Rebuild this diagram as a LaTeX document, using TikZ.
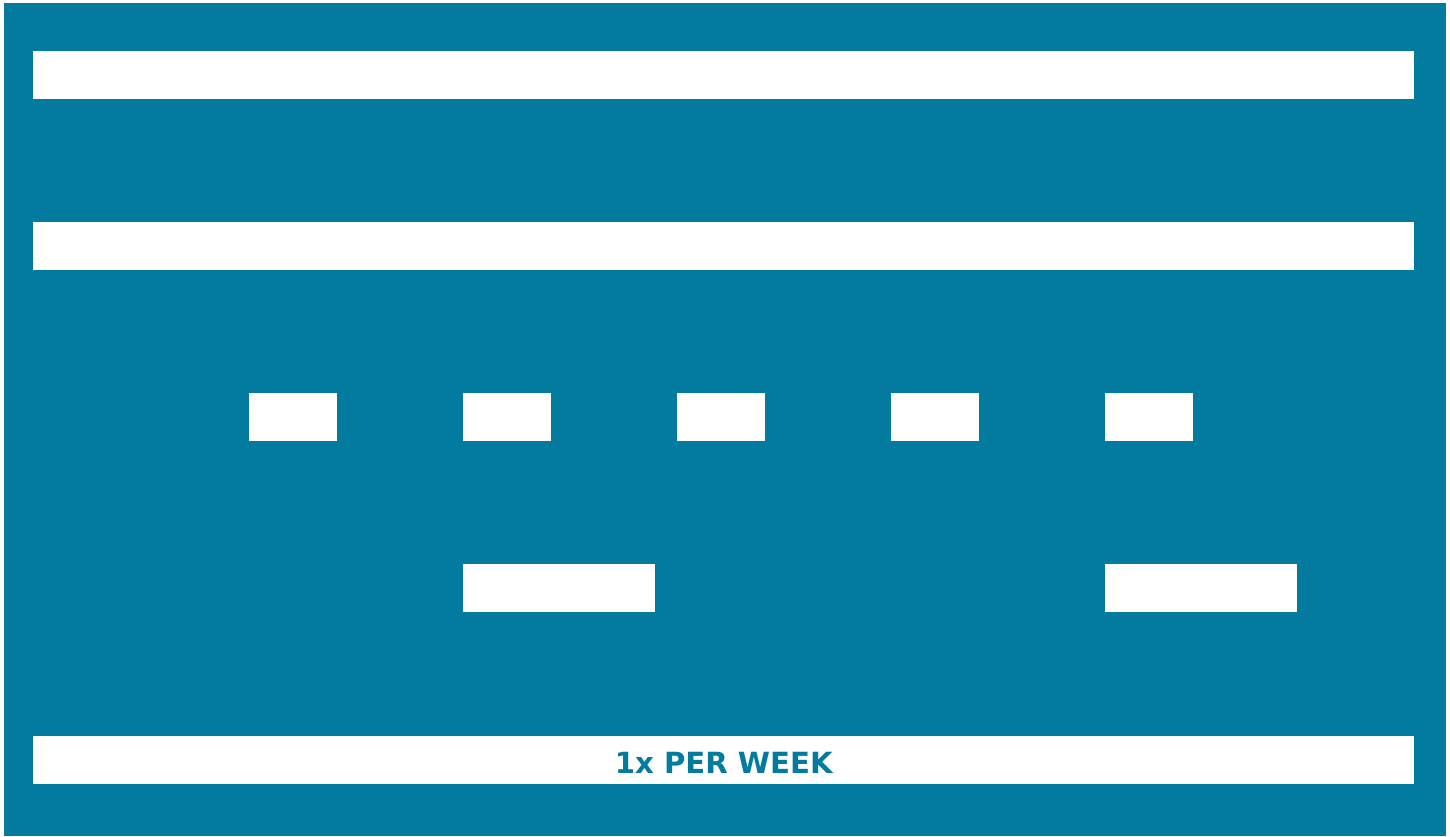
\documentclass[tikz,border=0pt]{standalone}
\usepackage{fontspec}
\setsansfont{DejaVu Sans}
\usepackage{tikz}
\usetikzlibrary{positioning}
\definecolor{laneteal}{RGB}{3,123,158}

\begin{document}
\begin{tikzpicture}[x=0.02cm, y=-0.02cm,
    bar/.style={fill=white, inner sep=0pt, minimum height=0.96cm, anchor=north west}]
  \useasboundingbox (0,0) rectangle (1450,836);
  % Page and teal field
  \fill[white] (0,0) rectangle (1450,836);
  \fill[laneteal] (4,3) rectangle (1446,836);

  % Two full lanes
  \node[bar, minimum width=27.62cm] (lanea) at (33,51) {};
  \node[bar, minimum width=27.62cm] (laneb) at (33,222) {};

  % Short dashes
  \foreach \x [count=\i] in {249,463,677,891,1105} {
    \node[bar, minimum width=1.76cm] (dash\i) at (\x,393) {};
  }

  % Wide dashes
  \node[bar, minimum width=3.84cm] (widea) at (463,564) {};
  \node[bar, minimum width=3.84cm] (wideb) at (1105,564) {};

  % Bottom lane with label
  \node[bar, minimum width=27.62cm] (weekbar) at (33,736) {};
  \node[inner sep=0pt, text=laneteal,
        font=\sffamily\bfseries\fontsize{16.6}{18}\selectfont]
    (weeklabel) at ([yshift=-0.06cm]weekbar.center) {1x PER WEEK};
\end{tikzpicture}
\end{document}
